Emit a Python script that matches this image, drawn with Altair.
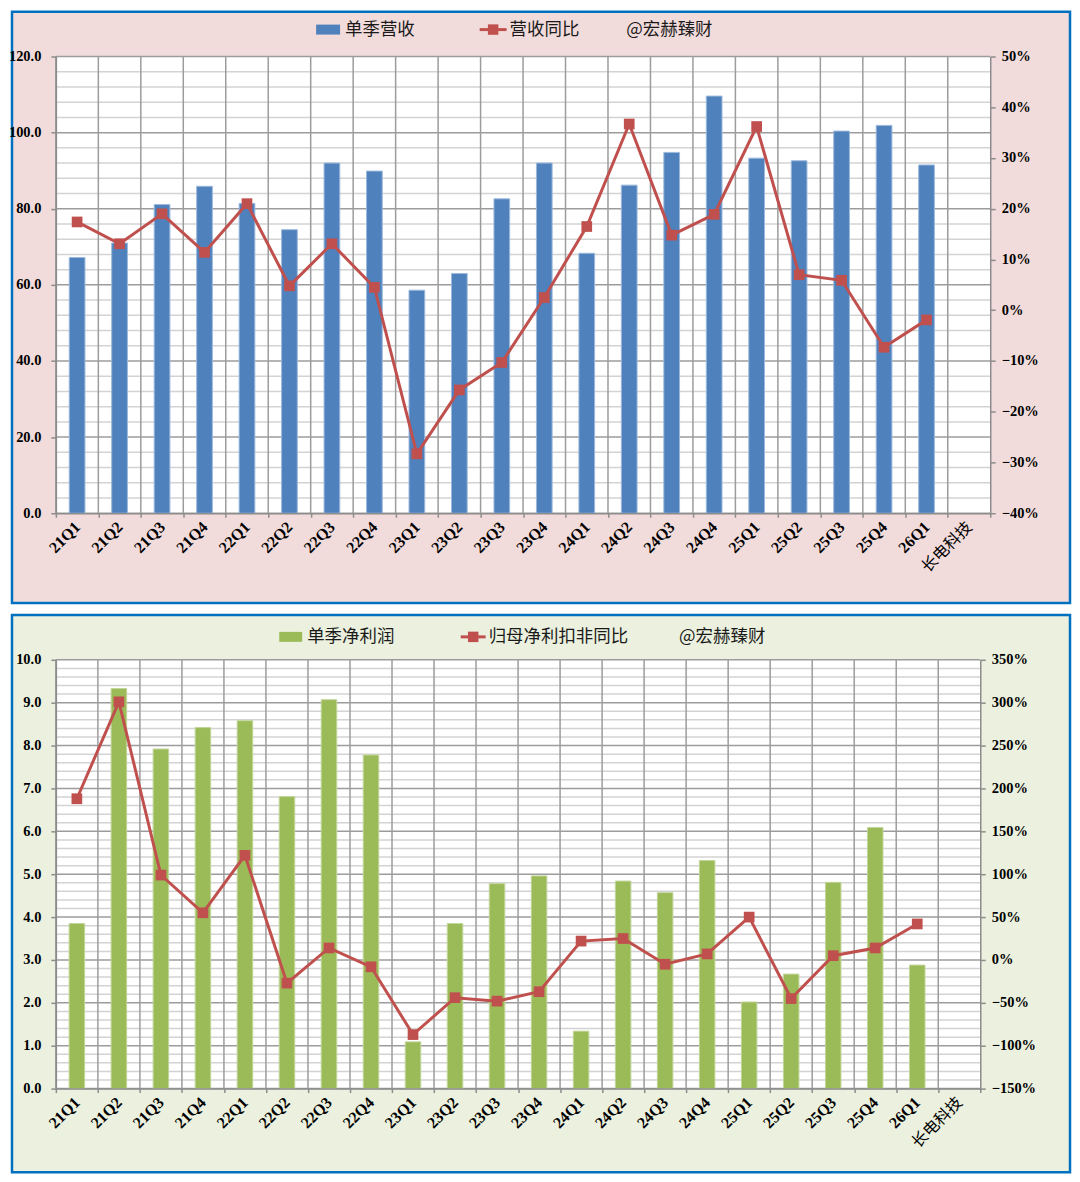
import altair as alt
import pandas as pd

# ---------------- data ----------------
quarters = ["21Q1", "21Q2", "21Q3", "21Q4", "22Q1", "22Q2", "22Q3", "22Q4",
            "23Q1", "23Q2", "23Q3", "23Q4", "24Q1", "24Q2", "24Q3", "24Q4",
            "25Q1", "25Q2", "25Q3", "25Q4", "26Q1"]
company = "长电科技"

revenue = [67.2, 71.0, 81.1, 85.9, 81.4, 74.5, 92.0, 89.9, 58.6, 63.0, 82.6,
           92.0, 68.3, 86.2, 94.8, 109.6, 93.3, 92.6, 100.4, 101.9, 91.5]
revenue_yoy = [17.4, 13.1, 19.0, 11.4, 21.0, 4.8, 13.1, 4.5, -28.3, -15.7,
               -10.3, 2.5, 16.5, 36.7, 14.8, 18.9, 36.2, 7.0, 5.9, -7.3, -1.9]

net_profit = [3.85, 9.33, 7.92, 8.42, 8.58, 6.81, 9.07, 7.78, 1.09, 3.85, 4.78,
              4.96, 1.34, 4.84, 4.57, 5.32, 2.02, 2.67, 4.81, 6.09, 2.88]
profit_yoy = [188, 301, 99, 55, 122, -27, 14, -8, -87, -44, -48, -37, 22, 25,
              -5, 7, 50, -45, 5, 14, 42]

rev_ticks = [0, 20, 40, 60, 80, 100, 120]
rev_yoy_ticks = [-0.4, -0.3, -0.2, -0.1, 0.0, 0.1, 0.2, 0.3, 0.4, 0.5]
np_ticks = [0, 1, 2, 3, 4, 5, 6, 7, 8, 9, 10]
np_yoy_ticks = [-1.5, -1.0, -0.5, 0.0, 0.5, 1.0, 1.5, 2.0, 2.5, 3.0, 3.5]

x_domain = quarters + [company]

# ---------------- style ----------------
FONT_NUM = "Liberation Serif"
FONT_CJK = "Noto Sans CJK SC"
RED = "#c0504d"
BORDER = "#0070c0"
GRID_MINOR = "#d3d3d3"
GRID_MAJOR = "#9c9c9c"
AXIS_GREY = "#8c8c8c"

one = pd.DataFrame({"a": [1]})


def panel(vals, yoy, W, H, bottom, bar_color, bar_stroke, bg, y_dom, y_ticks,
          y_step, r_dom, r_ticks, leg):
    df = pd.DataFrame({"q": quarters, "val": vals, "yoy": [v / 100 for v in yoy]})
    qdf = pd.DataFrame({"q": x_domain})
    n = int(round((y_dom[1] - y_dom[0]) / y_step))
    minor = [round(y_dom[0] + i * y_step, 6) for i in range(n + 1)]
    minor = [v for v in minor if v not in y_ticks]
    minor_df = pd.DataFrame({"v": minor})
    major_df = pd.DataFrame({"v": y_ticks})

    xscale = alt.Scale(domain=x_domain, paddingInner=0, paddingOuter=0)
    yscale = alt.Scale(domain=y_dom, nice=False, zero=False)
    rscale = alt.Scale(domain=r_dom, nice=False, zero=False)

    bgrect = alt.Chart(one).mark_rect(fill=bg, stroke=BORDER, strokeWidth=2.5).encode(
        x=alt.value(-44), x2=alt.value(1017), y=alt.value(-45), y2=alt.value(H + bottom))
    plotbg = alt.Chart(one).mark_rect(fill="white").encode(
        x=alt.value(0), x2=alt.value(W), y=alt.value(0), y2=alt.value(H))
    hminor = alt.Chart(minor_df).mark_rule(color=GRID_MINOR, strokeWidth=1.5).encode(
        y=alt.Y("v:Q", scale=yscale, axis=None), x=alt.value(0), x2=alt.value(W))
    hmajor = alt.Chart(major_df).mark_rule(color=GRID_MAJOR, strokeWidth=1.5).encode(
        y=alt.Y("v:Q", scale=yscale, axis=None), x=alt.value(0), x2=alt.value(W))
    vgrid = alt.Chart(qdf).mark_rule(color=GRID_MAJOR, strokeWidth=1.5).encode(
        x=alt.X("q:N", scale=xscale, bandPosition=0), y=alt.value(0), y2=alt.value(H))

    xaxis = alt.Axis(
        title=None, labelAngle=-45, labelAlign="right", labelBaseline="middle",
        labelFont=FONT_NUM + ", " + FONT_CJK, labelFontSize=16,
        labelFontWeight=alt.ExprRef(expr="datum.value === '长电科技' ? 'normal' : 'bold'"),
        labelColor="#000000", labelPadding=7, tickSize=4, tickBand="extent",
        tickColor=AXIS_GREY, tickWidth=1.5, domainColor=AXIS_GREY, domainWidth=1.5,
        grid=False, zindex=1, labelOverlap=False)
    yaxis = alt.Axis(
        title=None, values=y_ticks, format=".1f", labelFont=FONT_NUM,
        labelFontSize=14.5, labelFontWeight="bold", labelColor="#000000",
        labelPadding=10, tickSize=5, tickColor=AXIS_GREY, tickWidth=1.5,
        domainColor=AXIS_GREY, domainWidth=1.5, grid=False, zindex=1)
    raxis = alt.Axis(
        title=None, orient="right", values=r_ticks, format=".0%", labelFont=FONT_NUM,
        labelFontSize=14.5, labelFontWeight="bold", labelColor="#000000",
        labelPadding=6, tickSize=5, tickColor=AXIS_GREY, tickWidth=1.5,
        domainColor=AXIS_GREY, domainWidth=1.5, grid=False, zindex=1)

    bars = alt.Chart(df).mark_bar(width=alt.RelativeBandSize(0.37), color=bar_color,
                                  stroke=bar_stroke, strokeWidth=1).encode(
        x=alt.X("q:N", scale=xscale, axis=xaxis),
        y=alt.Y("val:Q", scale=yscale, axis=yaxis))
    line = alt.Chart(df).mark_line(color=RED, strokeWidth=3).encode(
        x=alt.X("q:N", scale=xscale),
        y=alt.Y("yoy:Q", scale=rscale, axis=raxis))
    pts = alt.Chart(df).mark_point(shape="square", filled=True, size=115, color=RED,
                                   opacity=1).encode(
        x=alt.X("q:N", scale=xscale),
        y=alt.Y("yoy:Q", scale=rscale, axis=None))

    # legend row (drawn)
    ly = leg["y"]
    l_rect = alt.Chart(one).mark_rect(color=bar_color).encode(
        x=alt.value(leg["rect"][0]), x2=alt.value(leg["rect"][1]),
        y=alt.value(ly - 5), y2=alt.value(ly + 5))
    l_rule = alt.Chart(one).mark_rule(color=RED, strokeWidth=3).encode(
        x=alt.value(leg["line"][0]), x2=alt.value(leg["line"][1]), y=alt.value(ly))
    l_pt = alt.Chart(one).mark_point(shape="square", filled=True, size=110, color=RED,
                                     opacity=1).encode(
        x=alt.value((leg["line"][0] + leg["line"][1]) / 2), y=alt.value(ly))
    texts = []
    for tx, label in leg["texts"]:
        texts.append(alt.Chart(one).mark_text(
            align="left", baseline="middle", font=FONT_CJK, fontSize=17.5,
            color="#1a1a1a").encode(x=alt.value(tx), y=alt.value(ly),
                                    text=alt.value(label)))

    return alt.layer(bgrect, plotbg, hminor, hmajor, vgrid, bars, line, pts,
                     l_rect, l_rule, l_pt, *texts).resolve_scale(
        y="independent").properties(width=W, height=H)


top = panel(revenue, revenue_yoy, 937, 458, 90, "#4f81bd", "#9db9dc", "#f2dcdb",
            [0, 120], rev_ticks, 4, [-0.4, 0.5], rev_yoy_ticks,
            {"y": -27, "rect": (261, 285), "line": (425, 452),
             "texts": [(290, "单季营收"), (455, "营收同比"), (572, "@宏赫臻财")]})

bottom = panel(net_profit, profit_yoy, 927, 430, 514 - 430, "#9bbb59", "#c3d69b",
               "#ebf1de", [0, 10], np_ticks, 0.2, [-1.5, 3.5], np_yoy_ticks,
               {"y": -23, "rect": (224, 247), "line": (406, 431),
                "texts": [(252, "单季净利润"), (434, "归母净利扣非同比"), (625, "@宏赫臻财")]})

chart = alt.vconcat(top, bottom, spacing=8).properties(
    padding=0, background="white").configure_view(stroke=None)

chart.save("out.html", embed_options={"renderer": "svg", "actions": False})
